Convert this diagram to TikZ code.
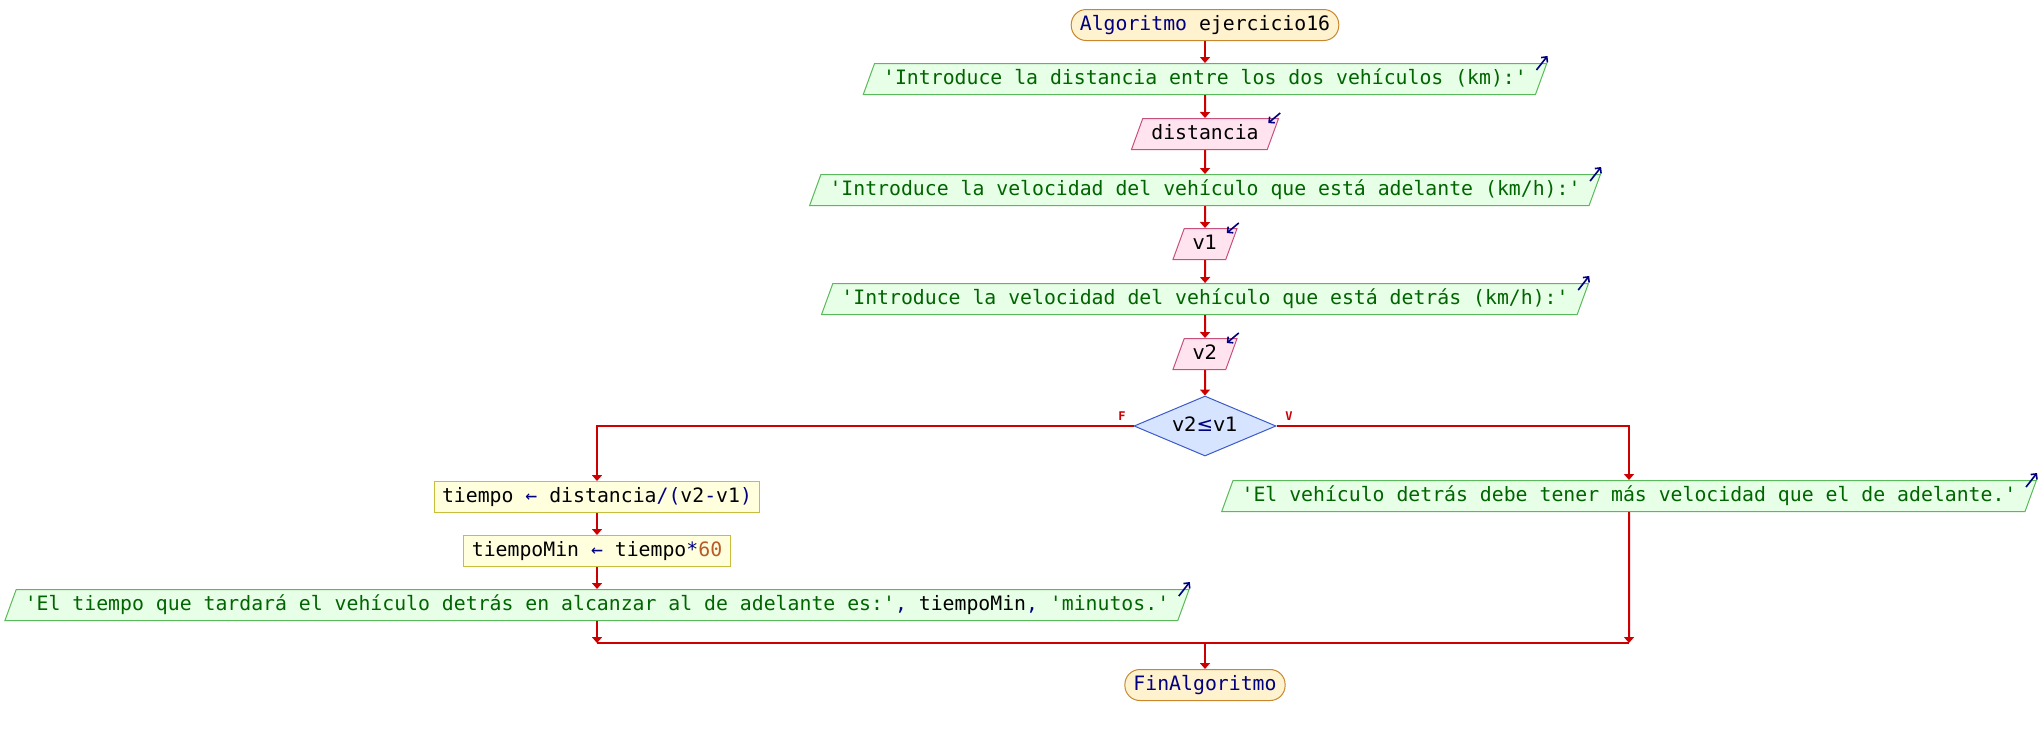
\documentclass[tikz,border=0pt]{standalone}
\usepackage{fontspec}
\setmonofont{DejaVu Sans Mono}
\newfontfamily\dvsans{DejaVu Sans}
\usepackage{xcolor}
\usepackage{tikz}
\usetikzlibrary{shapes.geometric,arrows.meta}

\definecolor{rojo}{RGB}{204,0,0}
\definecolor{azul}{RGB}{0,0,128}
\definecolor{verde}{RGB}{0,100,0}
\definecolor{numero}{RGB}{185,90,40}
\definecolor{termfondo}{RGB}{255,242,206}
\definecolor{termborde}{RGB}{200,135,45}
\definecolor{salfondo}{RGB}{230,255,230}
\definecolor{salborde}{RGB}{90,185,90}
\definecolor{entfondo}{RGB}{255,228,240}
\definecolor{entborde}{RGB}{200,80,125}
\definecolor{profondo}{RGB}{255,255,222}
\definecolor{proborde}{RGB}{200,190,60}
\definecolor{decfondo}{RGB}{214,228,255}
\definecolor{decborde}{RGB}{60,90,200}

\tikzset{
  base/.style={font=\ttfamily\fontsize{9.9pt}{12pt}\selectfont, text height=7.5pt, text depth=2.5pt,
    inner ysep=2.75pt, inner xsep=4.3pt, line width=0.5pt},
  terminal/.style={base, draw=termborde, fill=termfondo, rounded corners=7.5pt},
  salida/.style={base, trapezium, trapezium left angle=70, trapezium right angle=110,
    draw=salborde, fill=salfondo, text=verde},
  entrada/.style={base, trapezium, trapezium left angle=70, trapezium right angle=110,
    draw=entborde, fill=entfondo},
  proceso/.style={base, rectangle, draw=proborde, fill=profondo, inner xsep=4pt},
  decision/.style={base, diamond, draw=decborde, fill=decfondo, inner sep=0pt,
    minimum width=71pt, minimum height=30pt, shape aspect=2.37},
  flecha/.style={draw=rojo, line width=1pt, -{Triangle[length=3pt,width=5pt]}},
  linea/.style={draw=rojo, line width=1pt},
  icono/.style={draw=azul, line width=0.8pt, -{Straight Barb[length=2pt,width=4pt]}},
  etiqueta/.style={text=rojo, font=\ttfamily\bfseries\fontsize{6pt}{7pt}\selectfont, inner sep=0pt}
}

\begin{document}
\begin{tikzpicture}[x=0.5pt, y=-0.5pt]
    \useasboundingbox (0,0) rectangle (2040,735);

    % Main column
    \node[terminal] (inicio) at (1205,25) {\textcolor{azul}{Algoritmo} ejercicio16};
    \node[salida] (out1) at (1205,79) {'Introduce la distancia entre los dos vehículos (km):'};
    \node[entrada] (inDist) at (1205,134) {distancia};
    \node[salida] (out2) at (1205,190) {'Introduce la velocidad del vehículo que está adelante (km/h):'};
    \node[entrada] (inV1) at (1205,244) {\dvsans v1};
    \node[salida] (out3) at (1205,299) {'Introduce la velocidad del vehículo que está detrás (km/h):'};
    \node[entrada] (inV2) at (1205,354) {\dvsans v2};
    \node[decision] (cond) at (1205,426) {\dvsans v2\textcolor{azul}{≤}v1};

    % Branch F
    \node[proceso] (asig1) at (597,497) {tiempo \textcolor{azul}{←} distancia\textcolor{azul}{/(}v2\textcolor{azul}{-}v1\textcolor{azul}{)}};
    \node[proceso] (asig2) at (597,551) {tiempoMin \textcolor{azul}{←} tiempo\textcolor{azul}{*}\textcolor{numero}{60}};
    \node[salida] (out4) at (597,605) {'El tiempo que tardará el vehículo detrás en alcanzar al de adelante es:'\textcolor{azul}{,} \textcolor{black}{tiempoMin}\textcolor{azul}{,} 'minutos.'};

    % Branch V
    \node[salida] (outErr) at (1629,496) {'El vehículo detrás debe tener más velocidad que el de adelante.'};

    % End
    \coordinate (uneIzq) at (597,643);
    \coordinate (uneDer) at (1629,643);
    \coordinate (uneCen) at (1205,643);
    \node[terminal] (fin) at (1205,685) {\textcolor{azul}{FinAlgoritmo}};

    % Edges
    \draw[flecha] (inicio) -- (out1);
    \draw[flecha] (out1) -- (inDist);
    \draw[flecha] (inDist) -- (out2);
    \draw[flecha] (out2) -- (inV1);
    \draw[flecha] (inV1) -- (out3);
    \draw[flecha] (out3) -- (inV2);
    \draw[flecha] (inV2) -- (cond);
    \draw[flecha] (cond.west) -| (asig1);
    \draw[flecha] (cond.east) -| (outErr);
    \draw[flecha] (asig1) -- (asig2);
    \draw[flecha] (asig2) -- (out4);
    \draw[flecha] (out4) -- (uneIzq);
    \draw[flecha] (outErr) -- (uneDer);
    \draw[linea] (uneIzq) -- (uneDer);
    \draw[flecha] (uneCen) -- (fin);

    % Labels
    \node[etiqueta] (labF) at (1122,416) {F};
    \node[etiqueta] (labV) at (1289,416) {V};

    % Icons
    \draw[icono] ([xshift=-5.5pt,yshift=-3.5pt]out1.top right corner) -- ([yshift=3.5pt]out1.top right corner);
    \draw[icono] ([xshift=-5.5pt,yshift=-3.5pt]out2.top right corner) -- ([yshift=3.5pt]out2.top right corner);
    \draw[icono] ([xshift=-5.5pt,yshift=-3.5pt]out3.top right corner) -- ([yshift=3.5pt]out3.top right corner);
    \draw[icono] ([xshift=-5.5pt,yshift=-3.5pt]out4.top right corner) -- ([yshift=3.5pt]out4.top right corner);
    \draw[icono] ([xshift=-5.5pt,yshift=-3.5pt]outErr.top right corner) -- ([yshift=3.5pt]outErr.top right corner);
    \draw[icono] ([xshift=0.5pt,yshift=2.5pt]inDist.top right corner) -- ([xshift=-5.5pt,yshift=-2.5pt]inDist.top right corner);
    \draw[icono] ([xshift=0.5pt,yshift=2.5pt]inV1.top right corner) -- ([xshift=-5.5pt,yshift=-2.5pt]inV1.top right corner);
    \draw[icono] ([xshift=0.5pt,yshift=2.5pt]inV2.top right corner) -- ([xshift=-5.5pt,yshift=-2.5pt]inV2.top right corner);
\end{tikzpicture}
\end{document}
